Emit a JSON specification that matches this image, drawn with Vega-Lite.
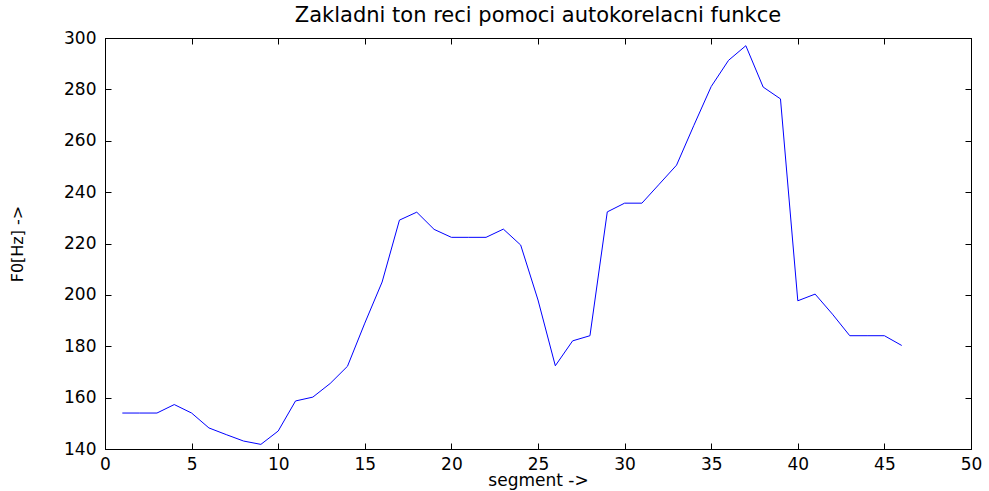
{
  "$schema": "https://vega.github.io/schema/vega-lite/v6.json",
  "width": 866,
  "height": 411,
  "autosize": "none",
  "padding": {"left": 105, "top": 38, "right": 18, "bottom": 42},
  "background": "white",
  "title": {
    "text": "Zakladni ton reci pomoci autokorelacni funkce",
    "font": "DejaVu Sans",
    "fontSize": 21,
    "fontWeight": "normal",
    "color": "black",
    "frame": "group",
    "anchor": "middle",
    "baseline": "alphabetic",
    "offset": -14
  },
  "config": {
    "view": {"stroke": "black", "strokeWidth": 1},
    "axis": {
      "grid": false,
      "domainColor": "black",
      "tickColor": "black",
      "labelColor": "black",
      "titleColor": "black",
      "labelFont": "DejaVu Sans",
      "titleFont": "DejaVu Sans",
      "titleFontWeight": "normal"
    }
  },
  "data": {
    "values": [
      {"segment": 1, "f0": 154}, {"segment": 2, "f0": 154}, {"segment": 3, "f0": 154},
      {"segment": 4, "f0": 157.3}, {"segment": 5, "f0": 154}, {"segment": 6, "f0": 148.2},
      {"segment": 7, "f0": 145.6}, {"segment": 8, "f0": 143.1}, {"segment": 9, "f0": 141.8},
      {"segment": 10, "f0": 147}, {"segment": 11, "f0": 158.7}, {"segment": 12, "f0": 160.2},
      {"segment": 13, "f0": 165.5}, {"segment": 14, "f0": 172.2}, {"segment": 15, "f0": 189},
      {"segment": 16, "f0": 205}, {"segment": 17, "f0": 229.1}, {"segment": 18, "f0": 232.2},
      {"segment": 19, "f0": 225.5}, {"segment": 20, "f0": 222.4}, {"segment": 21, "f0": 222.4},
      {"segment": 22, "f0": 222.4}, {"segment": 23, "f0": 225.6}, {"segment": 24, "f0": 219.4},
      {"segment": 25, "f0": 198}, {"segment": 26, "f0": 172.4}, {"segment": 27, "f0": 182.1},
      {"segment": 28, "f0": 184.1}, {"segment": 29, "f0": 232.3}, {"segment": 30, "f0": 235.7},
      {"segment": 31, "f0": 235.7}, {"segment": 32, "f0": 243.1}, {"segment": 33, "f0": 250.5},
      {"segment": 34, "f0": 266}, {"segment": 35, "f0": 281.1}, {"segment": 36, "f0": 291.3},
      {"segment": 37, "f0": 297}, {"segment": 38, "f0": 280.9}, {"segment": 39, "f0": 276.3},
      {"segment": 40, "f0": 197.7}, {"segment": 41, "f0": 200.3}, {"segment": 42, "f0": 192.5},
      {"segment": 43, "f0": 184.1}, {"segment": 44, "f0": 184.1}, {"segment": 45, "f0": 184.1},
      {"segment": 46, "f0": 180.3}
    ]
  },
  "layer": [
    {
      "mark": {"type": "line", "color": "#0000ff", "strokeWidth": 1},
      "encoding": {
        "x": {
          "field": "segment",
          "type": "quantitative",
          "scale": {"domain": [0, 50], "nice": false, "zero": false},
          "axis": {
            "orient": "bottom",
            "values": [0, 5, 10, 15, 20, 25, 30, 35, 40, 45, 50],
            "tickSize": -6,
            "labelPadding": 13,
            "labelFontSize": 17,
            "labelFlush": false,
            "title": "segment  ->",
            "titleFontSize": 17,
            "titlePadding": 0
          }
        },
        "y": {
          "field": "f0",
          "type": "quantitative",
          "scale": {"domain": [140, 300], "nice": false, "zero": false},
          "axis": {
            "orient": "left",
            "values": [140, 160, 180, 200, 220, 240, 260, 280, 300],
            "tickSize": -6,
            "labelPadding": 15,
            "labelFontSize": 17,
            "labelFlush": false,
            "title": "F0[Hz] ->",
            "titleFontSize": 16,
            "titlePadding": 38
          }
        }
      }
    },
    {
      "mark": {"type": "line", "strokeOpacity": 0},
      "encoding": {
        "x": {
          "field": "segment",
          "type": "quantitative",
          "scale": {"domain": [0, 50], "nice": false, "zero": false},
          "axis": {
            "orient": "top",
            "values": [0, 5, 10, 15, 20, 25, 30, 35, 40, 45, 50],
            "tickSize": -6,
            "labels": false,
            "title": null
          }
        },
        "y": {
          "field": "f0",
          "type": "quantitative",
          "scale": {"domain": [140, 300], "nice": false, "zero": false},
          "axis": {
            "orient": "right",
            "values": [140, 160, 180, 200, 220, 240, 260, 280, 300],
            "tickSize": -6,
            "labels": false,
            "title": null
          }
        }
      }
    }
  ],
  "resolve": {"axis": {"x": "independent", "y": "independent"}}
}
